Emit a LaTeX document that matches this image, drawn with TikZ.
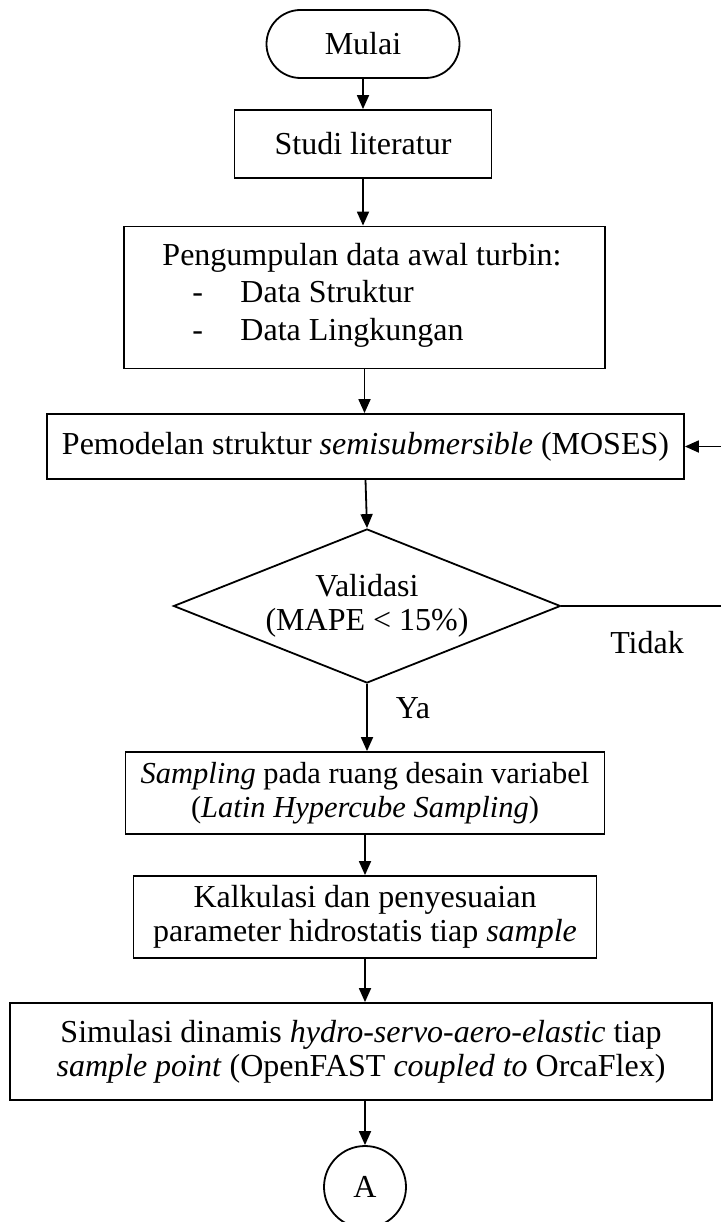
\documentclass[tikz,border=0pt]{standalone}
\usepackage{fontspec}
\setmainfont{Liberation Serif}
\usetikzlibrary{shapes.geometric,arrows.meta}
\begin{document}
\begin{tikzpicture}[x=1pt,y=-1pt,
  every node/.style={font=\fontsize{32}{34}\selectfont},
  proc/.style={draw, line width=1.8pt, rectangle, inner sep=0pt, align=center},
  conn/.style={line width=1.8pt, -{Triangle[length=14pt,width=12pt]}},
  plain/.style={line width=1.8pt}]
\useasboundingbox (0,0) rectangle (720,1222);
\node[proc, rounded corners=34pt, minimum width=193pt, minimum height=68pt] (start) at (363,44) {Mulai};
\node[proc, minimum width=257pt, minimum height=68pt] (lit) at (363,144) {Studi literatur};
\node[proc, minimum width=481pt, minimum height=142pt] (data) at (364.5,297.5) {};
\node[align=left, inner sep=0pt, font=\fontsize{32}{37.5}\selectfont] (datat) at (362,295) {Pengumpulan data awal turbin:\\ \hspace*{30pt}\makebox[48pt][l]{-}Data Struktur\\ \hspace*{30pt}\makebox[48pt][l]{-}Data Lingkungan};
\node[proc, minimum width=637pt, minimum height=65pt] (model) at (365.5,446.5) {Pemodelan struktur \textit{semisubmersible} (MOSES)};
\node[diamond, draw, line width=1.8pt, aspect=2.513, minimum width=387pt, minimum height=154pt, inner sep=0pt, align=center] (val) at (367,606) {Validasi\\(MAPE < 15\%)};
\node[proc, minimum width=479pt, minimum height=82pt, font=\fontsize{30.5}{34}\selectfont] (samp) at (365,793) {\textit{Sampling} pada ruang desain variabel\\(\textit{Latin Hypercube Sampling})};
\node[proc, minimum width=463pt, minimum height=82pt] (calc) at (365,917) {Kalkulasi dan penyesuaian\\parameter hidrostatis tiap \textit{sample}};
\node[proc, minimum width=702pt, minimum height=97pt] (sim) at (361,1051.5) {Simulasi dinamis \textit{hydro-servo-aero-elastic} tiap\\\textit{sample point} (OpenFAST \textit{coupled to} OrcaFlex)};
\node[draw, circle, line width=1.8pt, minimum size=82pt, inner sep=0pt] (A) at (365,1187) {A};
\node (ya) at (413,708) {Ya};
\node (tidak) at (647,643) {Tidak};
\coordinate (loop) at (722,606);
\draw[conn] (start.south) -- (lit.north);
\draw[conn] (lit.south) -- (lit.south |- data.north);
\draw[conn] (data.south) -- (data.south |- model.north);
\draw[conn] (model.south) -- (val.north);
\draw[conn] (val.south) -- (val.south |- samp.north);
\draw[conn] (samp.south) -- (calc.north);
\draw[conn] (A.north |- sim.south) -- (A.north);
\draw[conn] (calc.south) -- (calc.south |- sim.north);
\draw[conn] (val.east) -- (loop) |- (model.east);
\end{tikzpicture}
\end{document}
